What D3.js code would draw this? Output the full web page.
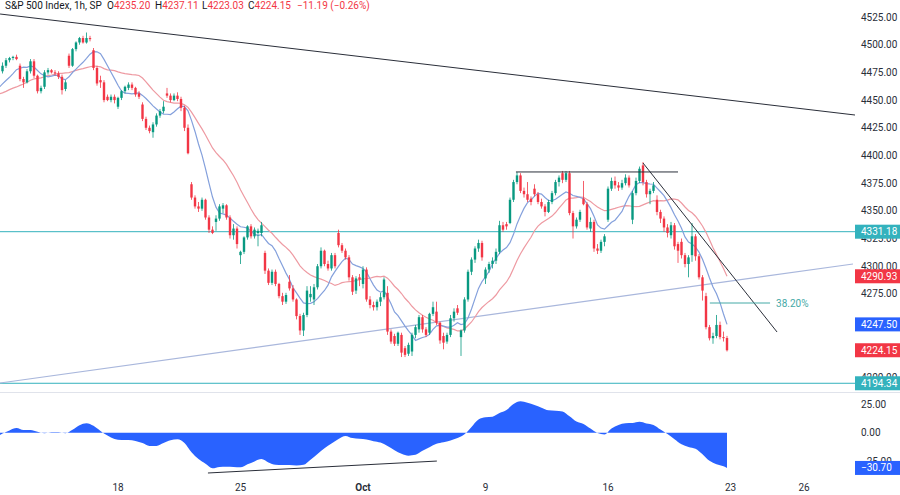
<!DOCTYPE html>
<html>
<head>
<meta charset="utf-8">
<script src="https://cdn.jsdelivr.net/npm/d3@7"></script>
<style>
  body { margin: 0; background: #fff; }
  svg { display: block; font-family: Roboto, "Noto Sans", sans-serif; }
</style>
</head>
<body>
<svg id="chart" width="900" height="495"></svg>
<script>
// closes before the first visible bar, only used to warm up the averages
const warmup = [4462, 4458, 4455, 4460, 4465, 4440, 4438, 4444, 4446, 4448, 4449, 4451,
  4452, 4458, 4462, 4459, 4455, 4457, 4457, 4478, 4474];

// hourly candles [open, high, low, close], 7 bars a day
const candles = [
  // Sep 11
  [4476, 4484, 4474, 4481], [4481, 4488, 4479, 4486], [4486, 4489, 4484, 4488], [4488, 4490, 4486, 4489], [4489, 4491, 4486, 4487],
  // Sep 12
  [4481, 4483, 4467, 4469], [4469, 4471, 4461, 4466], [4466, 4478, 4465, 4476], [4476, 4487, 4474, 4485], [4485, 4487, 4470, 4472], [4472, 4473, 4456, 4458], [4458, 4463, 4456, 4461],
  // Sep 13
  [4462, 4477, 4460, 4475], [4475, 4479, 4473, 4477], [4477, 4478, 4474, 4475], [4475, 4477, 4472, 4474], [4474, 4476, 4469, 4471], [4471, 4473, 4455, 4459], [4460, 4468, 4458, 4466],
  // Sep 14
  [4490, 4492, 4479, 4481], [4481, 4497, 4480, 4496], [4496, 4503, 4494, 4502], [4502, 4507, 4500, 4506], [4506, 4508, 4501, 4502], [4502, 4511, 4501, 4506], [4506, 4508, 4503, 4505],
  // Sep 15
  [4495, 4497, 4477, 4479], [4479, 4481, 4463, 4465], [4468, 4472, 4461, 4466], [4466, 4468, 4448, 4450], [4453, 4455, 4449, 4450], [4450, 4455, 4448, 4453], [4453, 4455, 4447, 4450],
  // Sep 18
  [4444, 4453, 4442, 4452], [4452, 4459, 4450, 4458], [4458, 4463, 4456, 4462], [4461, 4466, 4459, 4464], [4464, 4466, 4459, 4461], [4461, 4462, 4453, 4455], [4456, 4458, 4451, 4453],
  // Sep 19
  [4446, 4448, 4431, 4433], [4433, 4435, 4423, 4425], [4425, 4427, 4420, 4422], [4421, 4430, 4416, 4428], [4428, 4438, 4426, 4436], [4436, 4442, 4434, 4440], [4440, 4449, 4438, 4444],
  // Sep 20
  [4456, 4461, 4452, 4454], [4454, 4456, 4448, 4450], [4450, 4456, 4449, 4454], [4454, 4457, 4449, 4451], [4451, 4453, 4440, 4443], [4443, 4445, 4422, 4425], [4425, 4428, 4401, 4402],
  // Sep 21
  [4374, 4376, 4360, 4362], [4362, 4364, 4352, 4354], [4354, 4358, 4349, 4352], [4352, 4362, 4350, 4360], [4360, 4361, 4342, 4344], [4344, 4346, 4330, 4333], [4333, 4336, 4329, 4330],
  // Sep 22
  [4340, 4346, 4332, 4343], [4343, 4356, 4341, 4354], [4352, 4357, 4348, 4355], [4355, 4356, 4342, 4344], [4344, 4346, 4325, 4328], [4328, 4338, 4324, 4334], [4334, 4336, 4316, 4320],
  // Sep 25
  [4310, 4314, 4302, 4313], [4313, 4327, 4311, 4326], [4326, 4337, 4324, 4336], [4336, 4338, 4325, 4327], [4327, 4335, 4325, 4333], [4330, 4334, 4318, 4332], [4330, 4340, 4327, 4337],
  // Sep 26
  [4312, 4314, 4293, 4296], [4296, 4298, 4283, 4285], [4285, 4297, 4283, 4295], [4295, 4297, 4282, 4284], [4284, 4285, 4271, 4273], [4273, 4276, 4265, 4268], [4268, 4276, 4266, 4274],
  // Sep 27
  [4286, 4292, 4278, 4280], [4280, 4283, 4268, 4270], [4270, 4271, 4252, 4255], [4255, 4257, 4238, 4242], [4242, 4258, 4237, 4256], [4256, 4282, 4254, 4278], [4272, 4282, 4268, 4275],
  // Sep 28
  [4270, 4284, 4265, 4281], [4281, 4302, 4279, 4300], [4300, 4317, 4298, 4314], [4314, 4315, 4300, 4302], [4302, 4305, 4296, 4298], [4298, 4312, 4296, 4310], [4310, 4312, 4298, 4300],
  // Sep 29
  [4330, 4333, 4317, 4319], [4319, 4321, 4312, 4314], [4314, 4316, 4306, 4308], [4308, 4310, 4287, 4290], [4290, 4292, 4274, 4277], [4278, 4291, 4275, 4289], [4290, 4293, 4282, 4288],
  // Oct 2
  [4284, 4300, 4280, 4297], [4297, 4299, 4268, 4270], [4270, 4273, 4262, 4265], [4265, 4268, 4260, 4263], [4263, 4270, 4260, 4268], [4268, 4276, 4264, 4272], [4272, 4290, 4270, 4288],
  // Oct 3
  [4276, 4282, 4238, 4241], [4241, 4243, 4230, 4232], [4237, 4239, 4228, 4230], [4230, 4241, 4228, 4240], [4238, 4240, 4218, 4222], [4226, 4228, 4218, 4220], [4221, 4231, 4219, 4229],
  // Oct 4
  [4223, 4240, 4219, 4238], [4238, 4247, 4235, 4245], [4243, 4256, 4240, 4254], [4254, 4256, 4240, 4243], [4243, 4245, 4236, 4238], [4240, 4258, 4238, 4257], [4257, 4268, 4255, 4263],
  // Oct 5
  [4259, 4268, 4247, 4249], [4249, 4250, 4230, 4233], [4237, 4240, 4225, 4231], [4232, 4240, 4230, 4238], [4238, 4256, 4236, 4253], [4253, 4262, 4250, 4259], [4262, 4265, 4256, 4258],
  // Oct 6
  [4236, 4243, 4219, 4242], [4242, 4272, 4240, 4270], [4270, 4297, 4268, 4295], [4295, 4308, 4292, 4306], [4306, 4318, 4303, 4316], [4316, 4324, 4313, 4321], [4321, 4323, 4305, 4308],
  // Oct 9
  [4289, 4299, 4284, 4297], [4297, 4304, 4294, 4302], [4302, 4308, 4298, 4305], [4305, 4316, 4302, 4313], [4313, 4341, 4311, 4337], [4337, 4340, 4331, 4333], [4338, 4340, 4333, 4336],
  // Oct 10
  [4339, 4362, 4338, 4360], [4360, 4378, 4358, 4376], [4376, 4385, 4374, 4382], [4382, 4384, 4366, 4368], [4368, 4371, 4362, 4365], [4365, 4376, 4358, 4360], [4361, 4363, 4355, 4358],
  // Oct 11
  [4370, 4374, 4363, 4365], [4365, 4367, 4356, 4358], [4358, 4361, 4352, 4354], [4354, 4356, 4345, 4349], [4349, 4360, 4348, 4358], [4358, 4368, 4356, 4366], [4366, 4378, 4364, 4376],
  // Oct 12
  [4376, 4382, 4372, 4380], [4384, 4386, 4375, 4378], [4378, 4386, 4376, 4384], [4384, 4386, 4346, 4348], [4348, 4350, 4325, 4336], [4336, 4344, 4334, 4342], [4342, 4351, 4340, 4349],
  // Oct 13
  [4361, 4377, 4355, 4356], [4356, 4358, 4333, 4335], [4334, 4344, 4331, 4340], [4340, 4342, 4313, 4316], [4316, 4320, 4311, 4314], [4314, 4324, 4312, 4322], [4322, 4329, 4318, 4327],
  // Oct 16
  [4342, 4372, 4340, 4370], [4370, 4380, 4368, 4377], [4377, 4381, 4370, 4373], [4373, 4376, 4368, 4371], [4371, 4378, 4369, 4375], [4375, 4383, 4373, 4380], [4380, 4382, 4371, 4373],
  // Oct 17
  [4342, 4368, 4338, 4366], [4366, 4380, 4364, 4377], [4377, 4390, 4375, 4388], [4391, 4394, 4373, 4376], [4376, 4378, 4362, 4365], [4365, 4370, 4356, 4368], [4368, 4376, 4366, 4373],
  // Oct 18
  [4360, 4364, 4346, 4349], [4349, 4351, 4339, 4343], [4343, 4345, 4331, 4335], [4335, 4338, 4326, 4330], [4328, 4340, 4325, 4337], [4337, 4339, 4315, 4318], [4320, 4322, 4303, 4314],
  // Oct 19
  [4322, 4325, 4307, 4310], [4310, 4312, 4299, 4302], [4302, 4310, 4290, 4308], [4310, 4339, 4304, 4327], [4327, 4329, 4305, 4309], [4309, 4311, 4288, 4290], [4290, 4292, 4269, 4278],
  // Oct 20
  [4273, 4276, 4243, 4245], [4245, 4247, 4233, 4235], [4235, 4240, 4230, 4237], [4237, 4256, 4235, 4247], [4247, 4250, 4234, 4236], [4236, 4241, 4232, 4235.34], [4235.20, 4237.11, 4223.03, 4224.15]
];

// lower pane oscillator, [bar, value]
const oscillator = [
  [-0.7, -2], [0, -0.8], [2, 2], [4, 4], [6, 2.3], [8, 2.3], [10, 0.8], [12, -0.5], [14, 0.3], [16, 0.3], [18, -0.4],
  [20, 2.5], [22, 6.5], [24, 8.3], [26, 6], [28, 1.5], [30, -2.5], [32, -5.5], [34, -6.4], [36, -6.4], [38, -7.2],
  [40, -9], [42, -11.5], [44, -11.5], [46, -9], [48, -6.5], [50, -5.7], [52, -9], [54, -17], [56, -23], [58, -27],
  [60, -31], [62, -29.8], [64, -29.7], [66, -29.8], [68, -30.2], [70, -27.5], [72, -25], [74, -23], [76, -26], [78, -28],
  [80, -28.2], [82, -28.2], [84, -28.5], [86, -28], [88, -23.5], [90, -18.5], [92, -13.5], [94, -9.5], [96, -5.5], [98, -2.8],
  [100, -4.7], [102, -5.3], [104, -6], [106, -7.4], [108, -8.6], [110, -11.5], [112, -15.2], [114, -18.4], [116, -20], [118, -19.3],
  [120, -15.8], [122, -12.7], [124, -9.7], [126, -8.4], [128, -6.8], [130, -4.7], [132, -1.4], [134, 5], [136, 11.6], [138, 13.4],
  [140, 14], [142, 17.2], [144, 19.8], [146, 25], [148, 27.4], [150, 26], [152, 24.2], [154, 21.8], [156, 19.5], [158, 19.2],
  [160, 18.5], [162, 14.3], [164, 9.7], [166, 7.6], [168, 3.6], [170, -0.2], [172, -1.5], [174, 3.7], [176, 6.7], [178, 8.2],
  [180, 8.4], [182, 9.5], [184, 8.1], [186, 6.7], [188, 2.7], [190, -1.1], [192, -5.6], [194, -10], [196, -12.4], [198, -14],
  [200, -18.7], [202, -24.5], [204, -27.4], [206, -29.2], [207, -30.7]
];

const xTickBars = [33, 68, 103, 138, 173, 208, 229];
const xTickLabels = ["18", "25", "Oct", "9", "16", "23", "26"];
const priceTicks = [4200, 4275, 4300, 4325, 4350, 4375, 4400, 4425, 4450, 4475, 4500, 4525];
const oscTicks = [-25, 0, 25];
const levels = [4331.18, 4194.34];

// drawn lines: [bar1, price1, bar2, price2]
const trendLines = [
  [-0.7, 4527.7, 243.6, 4436.5],   // long falling line
  [146.7, 4385.1, 193.0, 4385.1],  // double top
  [183.0, 4393.2, 221.3, 4240.6]   // short falling line
];
const supportLine = [-0.7, 4194.6, 243.0, 4302.0];
const fibLevel = { label: "38.20%", price: 4266.8, from: 202.1, to: 219.3 };
const oscLine = [58.7, -35.1, 124.1, -24.7];

const W = 900, plotW = 855, priceBottom = 392, oscTop = 393, oscBottom = 478;
const UP = "#089981", DOWN = "#f23645", TEAL = "#33b2bd", BLUE = "#2962ff";

const svg = d3.select("#chart");
const x = d3.scaleLinear().domain([0, 207]).range([2.5, 727]);
const y = d3.scaleLinear().domain([4200, 4525]).range([377, 17]);
const yo = d3.scaleLinear().domain([-25, 25]).range([461.4, 404]);

const defs = svg.append("defs");
defs.append("clipPath").attr("id", "clipP").append("rect").attr("width", plotW).attr("height", priceBottom);
defs.append("clipPath").attr("id", "clipO").append("rect").attr("y", oscTop).attr("width", plotW).attr("height", oscBottom - oscTop);

// moving averages from the closes
const closes = warmup.concat(candles.map(d => d[3]));
function sma(n) {
  const out = [];
  for (let k = n - 1; k < closes.length; k++) {
    out.push([k - warmup.length, d3.mean(closes.slice(k - n + 1, k + 1))]);
  }
  return out;
}
const fast = sma(9), slow = sma(21);

const gP = svg.append("g").attr("clip-path", "url(#clipP)");

// horizontal levels
gP.selectAll("line.level").data(levels).join("line")
  .attr("x1", 0).attr("x2", plotW)
  .attr("y1", d => y(d)).attr("y2", d => y(d))
  .attr("stroke", TEAL).attr("stroke-width", 1);

gP.append("line")
  .attr("x1", x(supportLine[0])).attr("y1", y(supportLine[1]))
  .attr("x2", x(supportLine[2])).attr("y2", y(supportLine[3]))
  .attr("stroke", "#a9b7dc").attr("stroke-width", 1.2);

const line = d3.line().x(d => x(d[0])).y(d => y(d[1]));
gP.append("path").datum(slow).attr("d", line)
  .attr("fill", "none").attr("stroke", "#ee9aa2").attr("stroke-width", 1.2);
gP.append("path").datum(fast).attr("d", line)
  .attr("fill", "none").attr("stroke", "#84a0dc").attr("stroke-width", 1.2);

// candles
const c = gP.selectAll("g.candle").data(candles).join("g")
  .attr("fill", d => d[3] >= d[0] ? UP : DOWN)
  .attr("stroke", d => d[3] >= d[0] ? UP : DOWN);
c.append("line")
  .attr("x1", (d, i) => x(i)).attr("x2", (d, i) => x(i))
  .attr("y1", d => y(d[1])).attr("y2", d => y(d[2]))
  .attr("stroke-width", 0.8);
c.append("rect")
  .attr("x", (d, i) => x(i) - 1.2).attr("width", 2.4)
  .attr("y", d => y(Math.max(d[0], d[3])))
  .attr("height", d => Math.max(1, Math.abs(y(d[0]) - y(d[3]))))
  .attr("stroke", "none");

gP.selectAll("line.trend").data(trendLines).join("line")
  .attr("x1", d => x(d[0])).attr("y1", d => y(d[1]))
  .attr("x2", d => x(d[2])).attr("y2", d => y(d[3]))
  .attr("stroke", "#2a2e39").attr("stroke-width", 1);

gP.append("line")
  .attr("x1", x(fibLevel.from)).attr("x2", x(fibLevel.to))
  .attr("y1", y(fibLevel.price)).attr("y2", y(fibLevel.price))
  .attr("stroke", "#45a9a6").attr("stroke-width", 1);
gP.append("text")
  .attr("x", x(fibLevel.to) + 6).attr("y", y(fibLevel.price)).attr("dy", "0.35em")
  .attr("fill", "#45a9a6").attr("font-size", 10).text(fibLevel.label);

// pane separator
svg.append("line").attr("x1", 0).attr("x2", W).attr("y1", priceBottom + 0.5).attr("y2", priceBottom + 0.5)
  .attr("stroke", "#e0e3eb");

// oscillator pane
const gO = svg.append("g").attr("clip-path", "url(#clipO)");
gO.append("path").datum(oscillator)
  .attr("d", d3.area().curve(d3.curveMonotoneX).x(d => x(d[0])).y0(yo(0)).y1(d => yo(d[1])))
  .attr("fill", BLUE);
gO.append("line")
  .attr("x1", x(oscLine[0])).attr("y1", yo(oscLine[1]))
  .attr("x2", x(oscLine[2])).attr("y2", yo(oscLine[3]))
  .attr("stroke", "#2a2e39").attr("stroke-width", 1);

// right scale
const fmt = d3.format(".2f");
const axisG = svg.append("g").attr("font-size", 10).attr("fill", "#2a2e39");
axisG.selectAll("text.p").data(priceTicks).join("text")
  .attr("x", 861).attr("y", d => y(d)).attr("dy", "0.35em").text(fmt);
axisG.selectAll("text.o").data(oscTicks).join("text")
  .attr("x", 861).attr("y", d => yo(d)).attr("dy", "0.35em").text(fmt);

const last = candles[candles.length - 1];
const prev = candles[candles.length - 2];
const markers = [
  { v: levels[0], color: TEAL, s: y },
  { v: slow[slow.length - 1][1], color: DOWN, s: y },
  { v: fast[fast.length - 1][1], color: BLUE, s: y },
  { v: last[3], color: DOWN, s: y },
  { v: levels[1], color: TEAL, s: y },
  { v: oscillator[oscillator.length - 1][1], color: BLUE, s: yo }
];
const mg = svg.selectAll("g.marker").data(markers).join("g");
mg.append("rect").attr("x", 855).attr("width", 45).attr("height", 14)
  .attr("y", d => d.s(d.v) - 7).attr("fill", d => d.color);
mg.append("text").attr("x", 861).attr("y", d => d.s(d.v)).attr("dy", "0.35em")
  .attr("font-size", 10).attr("fill", "#fff").text(d => fmt(d.v));

// time scale
svg.append("g").selectAll("text").data(xTickBars).join("text")
  .attr("x", d => x(d)).attr("y", 491).attr("text-anchor", "middle")
  .attr("font-size", 10).attr("fill", "#2a2e39")
  .attr("font-weight", (d, i) => xTickLabels[i] === "Oct" ? "bold" : null)
  .text((d, i) => xTickLabels[i]);

// legend line
const chg = last[3] - prev[3];
const head = svg.append("text").attr("y", 9).attr("font-size", 10).attr("fill", "#131722");
head.append("tspan").attr("x", 5).text("S&P 500 Index, 1h, SP");
const ohlc = [["O", last[0]], ["H", last[1]], ["L", last[2]], ["C", last[3]]];
const headX = [107, 155, 202, 248];
ohlc.forEach((o, k) => {
  head.append("tspan").attr("x", headX[k]).text(o[0]);
  head.append("tspan").attr("fill", DOWN).text(fmt(o[1]));
});
head.append("tspan").attr("x", 297).attr("fill", DOWN)
  .text(fmt(chg) + " (" + fmt(chg / prev[3] * 100) + "%)");
</script>
</body>
</html>
